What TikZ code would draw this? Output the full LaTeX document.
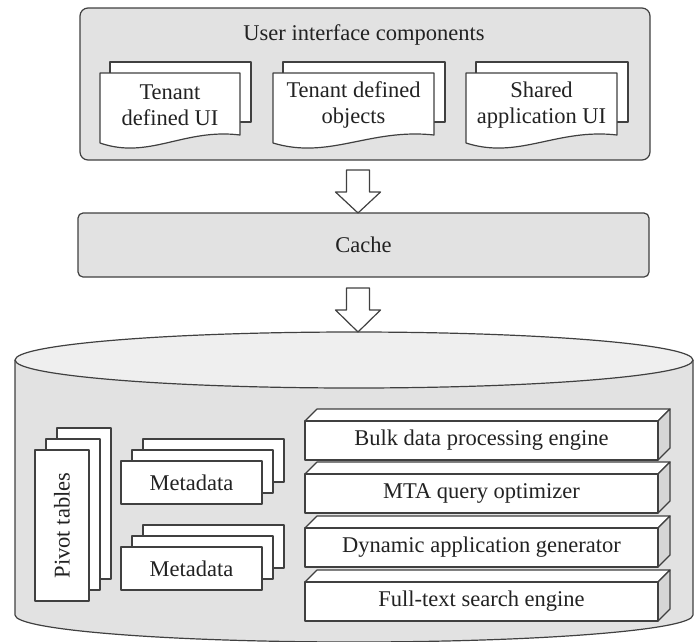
\documentclass[tikz,border=0pt]{standalone}
\usepackage{fontspec}
\setmainfont{Liberation Serif}
\usetikzlibrary{calc}
\definecolor{edge}{HTML}{404040}
\definecolor{boxgray}{HTML}{E2E2E2}
\definecolor{topgray}{HTML}{EFEFEF}
\definecolor{sidegray}{HTML}{D6D6D6}
\definecolor{txt}{HTML}{222222}
\newcommand\mydoc[4]{%
  \draw[card] (#2+10,-62) rectangle (#2+#3+11,-122);
  \draw[card] (#2,-143) -- (#2,-73) -- (#2+#3,-73) -- (#2+#3,-135)
     .. controls (#2+0.6*#3,-128) and (#2+0.35*#3,-160) .. (#2,-143) -- cycle;
  \node[align=center] (#1) at (#2+0.5*#3,-105) {#4};
}
\newcommand\myengine[3]{%
  \draw[card] (305,-#2) -- (317,-#2+12) -- (670,-#2+12) -- (658,-#2) -- cycle;
  \draw[frame, fill=sidegray] (658,-#2) -- (670,-#2+12) -- (670,-#2-27) -- (658,-#2-39) -- cycle;
  \node[card, minimum width=353pt, minimum height=39pt] (#1) at (481.5,-#2-19.5) {#3};
}
\begin{document}
\begin{tikzpicture}[x=1pt,y=1pt, line join=round,
  every node/.style={font=\fontsize{22.5pt}{26pt}\selectfont, text=txt, inner sep=0pt, outer sep=0pt},
  frame/.style={draw=edge, line width=1.2pt},
  uibox/.style={frame, fill=boxgray, rounded corners=8pt},
  cachebox/.style={frame, fill=boxgray, rounded corners=5pt},
  card/.style={frame, fill=white},
  blockarrow/.style={frame, fill=white},
]
\useasboundingbox (0,-641) rectangle (694,0);

% user interface components
\node[uibox, minimum width=570pt, minimum height=152pt] (ui) at (365,-84) {};
\node (uititle) at (364,-35) {User interface components};
\mydoc{tdui}{100}{140}{Tenant\\defined UI}
\mydoc{tdobj}{273}{161}{Tenant defined\\objects}
\mydoc{shui}{466}{151}{Shared\\application UI}

% cache
\node[cachebox, minimum width=571pt, minimum height=64pt] (cache) at (363.5,-245) {Cache};

% database cylinder
\fill[boxgray] (15,-360) -- (15,-615) arc[start angle=180,end angle=360,x radius=339,y radius=27] -- (693,-360) -- cycle;
\draw[frame] (15,-360) -- (15,-615) arc[start angle=180,end angle=360,x radius=339,y radius=27] -- (693,-360);
\draw[frame, fill=topgray] (354,-360) ellipse [x radius=339, y radius=28];
\coordinate (dbtop) at (358,-332);

% block arrows
\coordinate (tip1) at ($(cache.north)+(-5.5,0)$);
\draw[blockarrow] (tip1) -- ++(-22.5,21) -- ++(11,0) -- ++(0,22) -- ++(23,0) -- ++(0,-22) -- ++(11,0) -- cycle;
\draw[blockarrow] (dbtop) -- ++(-22.5,22) -- ++(11,0) -- ++(0,22) -- ++(23,0) -- ++(0,-22) -- ++(11,0) -- cycle;

% pivot tables
\draw[card] (57,-428) rectangle (111,-579);
\draw[card] (46,-439) rectangle (100,-590);
\node[card, rotate=90, minimum width=151pt, minimum height=54pt] (pivot) at (62,-525.5) {Pivot tables};

% metadata stacks
\draw[card] (143,-439) rectangle (284,-482);
\draw[card] (132,-450) rectangle (273,-493);
\node[card, minimum width=141pt, minimum height=43pt] (meta1) at (191.5,-482.5) {Metadata};
\draw[card] (143,-525) rectangle (284,-568);
\draw[card] (132,-536) rectangle (273,-579);
\node[card, minimum width=141pt, minimum height=43pt] (meta2) at (191.5,-568.5) {Metadata};

% engines
\myengine{bulk}{421}{Bulk data processing engine}
\myengine{mta}{474}{MTA query optimizer}
\myengine{dyn}{528}{Dynamic application generator}
\myengine{fts}{582}{Full-text search engine}
\end{tikzpicture}
\end{document}
